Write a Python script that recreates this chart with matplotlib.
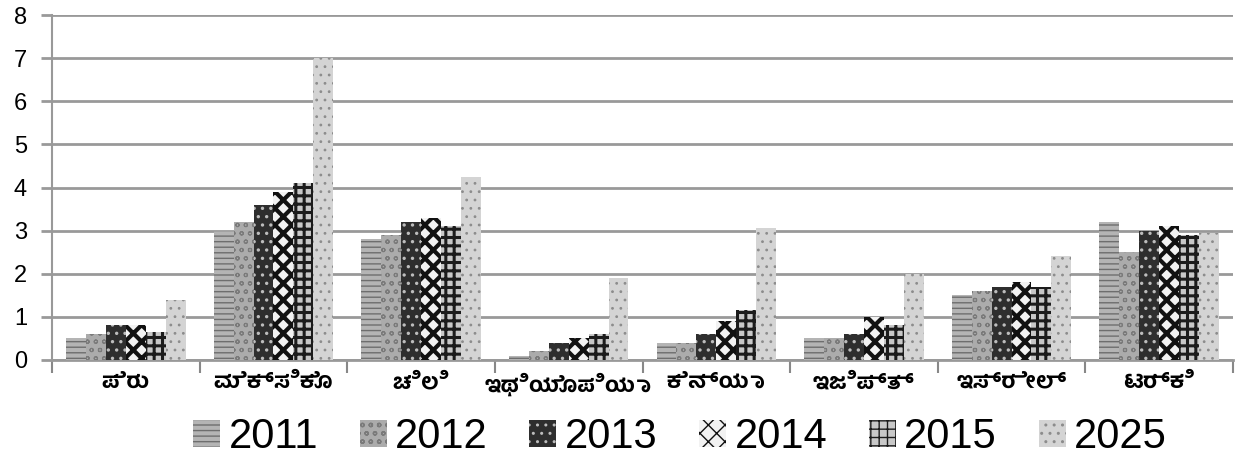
import matplotlib
matplotlib.use("Agg")
import matplotlib.pyplot as plt
import numpy as np

categories = ["ಪೆರು", "ಮೆಕ್ಸಿಕೊ", "ಚಿಲಿ", "ಇಥಿಯೊಪಿಯಾ", "ಕೆನ್ಯಾ", "ಇಜಿಪ್ತ್", "ಇಸ್ರೇಲ್", "ಟರ್ಕಿ"]
years = ["2011", "2012", "2013", "2014", "2015", "2025"]
v2011 = [0.5, 3.0, 2.8, 0.1, 0.4, 0.5, 1.5, 3.2]
v2012 = [0.6, 3.2, 2.9, 0.2, 0.4, 0.5, 1.6, 2.5]
v2013 = [0.8, 3.6, 3.2, 0.4, 0.6, 0.6, 1.7, 3.0]
v2014 = [0.8, 3.9, 3.3, 0.5, 0.9, 1.0, 1.8, 3.1]
v2015 = [0.65, 4.1, 3.1, 0.6, 1.15, 0.8, 1.7, 2.9]
v2025 = [1.4, 7.0, 4.25, 1.9, 3.05, 2.0, 2.4, 2.95]
series = [v2011, v2012, v2013, v2014, v2015, v2025]
yticks = [0, 1, 2, 3, 4, 5, 6, 7, 8]

styles = [
    dict(facecolor="#b4b4b4", edgecolor="#6e6e6e", hatch="---", hlw=1.0),
    dict(facecolor="#ababab", edgecolor="#7a7a7a", hatch="oo", hlw=0.8),
    dict(facecolor="#2e2e2e", edgecolor="#bdbdbd", hatch="..", hlw=1.2),
    dict(facecolor="#f2f2f2", edgecolor="#111111", hatch="xx", hlw=3.0),
    dict(facecolor="#c8c8c8", edgecolor="#1c1c1c", hatch="++", hlw=2.2),
    dict(facecolor="#d4d4d4", edgecolor="#8c8c8c", hatch="..", hlw=0.8),
]

plt.rcParams['font.family'] = ['Hind Mysuru', 'Liberation Sans', 'DejaVu Sans']

fig = plt.figure(figsize=(12.5, 4.62), dpi=100)
ax = fig.add_axes([0.0416, 0.2208, 0.9448, 0.7467])

x = np.arange(len(categories))
n = len(series)
bw = 0.135
handles = []
for i, (vals, st) in enumerate(zip(series, styles)):
    with plt.rc_context({'hatch.linewidth': st['hlw']}):
        bars = ax.bar(x + (i - (n - 1) / 2) * bw, vals, width=bw,
                      facecolor=st['facecolor'], edgecolor=st['edgecolor'],
                      hatch=st['hatch'], linewidth=0, label=years[i], zorder=3)
        for b in bars:
            if hasattr(b, 'set_hatch_linewidth'):
                b.set_hatch_linewidth(st['hlw'])
    handles.append(bars)

ax.set_xlim(-0.5, len(categories) - 0.5)
ax.set_ylim(0, 8)
ax.set_yticks(yticks)
ax.set_yticklabels([str(t) for t in yticks], fontsize=17, family=['Liberation Sans'])
ax.yaxis.grid(True, color="#999999", linewidth=2.0, zorder=0)
ax.set_axisbelow(True)
ax.tick_params(axis='y', length=8, width=2.0, color="#999999", pad=10)

ax.set_xticks(np.arange(len(categories) + 1) - 0.5, minor=False)
ax.set_xticklabels([])
ax.tick_params(axis='x', which='major', length=9, width=1.5, color="#888888", direction='out')
ax.set_xticks(x, minor=True)
ax.set_xticklabels(categories, minor=True, fontsize=16, fontweight='bold',
                   family=['Hind Mysuru', 'Noto Sans Kannada', 'DejaVu Sans'])
ax.tick_params(axis='x', which='minor', length=0, pad=9)

for s in ['top', 'right']:
    ax.spines[s].set_visible(False)
ax.spines['left'].set_color("#999999")
ax.spines['left'].set_linewidth(1.5)
ax.spines['bottom'].set_color("#999999")
ax.spines['bottom'].set_linewidth(2.0)

leg = fig.legend(handles=handles, labels=years, loc='center', bbox_to_anchor=(0.544, 0.054),
                 ncol=6, frameon=False, handlelength=0.65, handleheight=0.65,
                 handletextpad=0.2, columnspacing=1.0, prop={'family': 'Liberation Sans', 'size': 30})

fig.savefig("out.png", dpi=100)
